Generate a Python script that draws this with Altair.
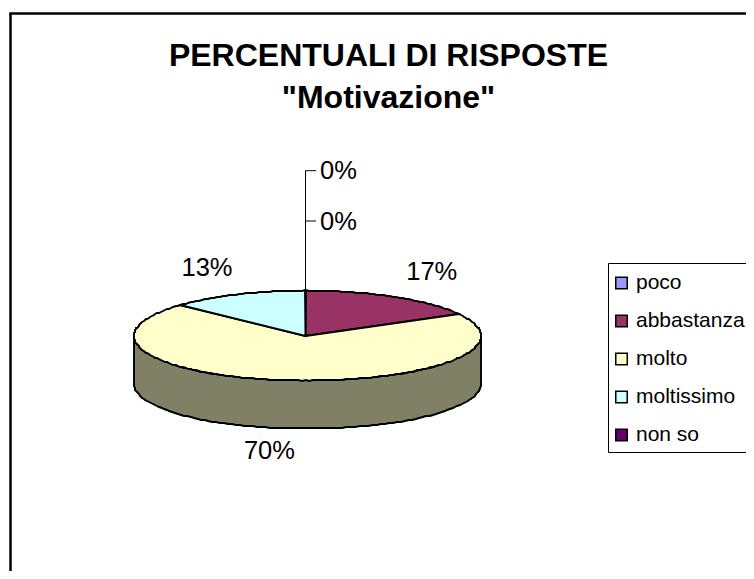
import math
import altair as alt
import pandas as pd

categories = ["poco", "abbastanza", "molto", "moltissimo", "non so"]
shares = [0, 17, 70, 13, 0]
colors = ["#9999FF", "#993366", "#FFFFCC", "#CCFFFF", "#660066"]
side_color = "#808066"
title_lines = ["PERCENTUALI DI RISPOSTE", '"Motivazione"']

W, H = 738, 563
CX, CY, RX, RY, DEPTH = 297.5, 327.5, 173.5, 45, 48
FONT = "Liberation Sans"


def rim(turn, dz=0.0):
    a = 2 * math.pi * turn
    s, c = math.sin(a), math.cos(a)
    return [round(CX + RX * s + 2 * abs(s)), round(CY - RY * c + 0.5 * abs(s) + dz)]


def feature(ring, **props):
    return {"type": "Feature", "properties": props,
            "geometry": {"type": "Polygon", "coordinates": [ring]}}


# slices of the top face, built from the shares
wedges, start = [], 0.0
for name, share in zip(categories, shares):
    if share > 0:
        steps = max(2, int(share * 3))
        arc = [rim((start + (share / 100) * i / steps)) for i in range(steps + 1)]
        ring = [[CX, CY + 0.5]] + arc + [[CX, CY + 0.5]]
        wedges.append(feature(ring, category=name))
    start += share / 100

# visible side wall: the front half of the rim
front = [rim(0.25 + 0.5 * i / 120) for i in range(121)]
back = [rim(0.75 - 0.5 * i / 120, DEPTH) for i in range(121)]
wall = [feature(front + back + [front[0]], part="side")]

projection = alt.Projection(type="identity", scale=1, translate=[0, 0])

wall_layer = alt.Chart(alt.Data(values=wall)).mark_geoshape(
    fill=side_color, stroke="black", strokeWidth=1.9
).project(**projection.to_dict())

wedge_layer = alt.Chart(alt.Data(values=wedges)).mark_geoshape(
    stroke="black", strokeWidth=1.9
).encode(
    color=alt.Color(
        "properties.category:N",
        scale=alt.Scale(domain=categories, range=colors),
        sort=categories,
        legend=alt.Legend(
            title=None, orient="none", legendX=603, legendY=264.5,
            symbolType="square", symbolSize=132, symbolStrokeColor="black",
            symbolStrokeWidth=1.5, symbolOpacity=1, labelFont=FONT, labelFontSize=21,
            labelColor="black", labelOffset=4, rowPadding=16, labelLimit=200,
            padding=0,
        ),
    )
).project(**projection.to_dict())

# percentage labels placed from each slice's mid angle; empty slices sit on leaders
rows, start = [], 0.0
zero_levels = {"poco": 162.7, "non so": 213}
for name, share in zip(categories, shares):
    mid = 2 * math.pi * (start + share / 200)
    if share == 0:
        rows.append({"label": "0%", "px": 330.5, "py": zero_levels[name] + 0.5})
    else:
        c = math.cos(mid)
        rows.append({
            "label": f"{share}%",
            "px": CX + 248 * math.sin(mid) - (5 if c < 0 else 0),
            "py": CY - 74 * c + (42 if c < 0 else 0) + 0.5,
        })
    start += share / 100
labels = pd.DataFrame(rows)

label_layer = alt.Chart(labels).mark_text(
    font=FONT, fontSize=25.5, color="black", baseline="middle", align="center"
).encode(
    x=alt.X("px:Q", scale=None, axis=None),
    y=alt.Y("py:Q", scale=None, axis=None),
    text="label:N",
)

leaders = pd.DataFrame([
    {"x": CX, "x2": CX, "y": 162.7, "y2": CY - RY},
    {"x": CX, "x2": 308, "y": 162.7, "y2": 162.7},
    {"x": CX, "x2": 308, "y": 213, "y2": 213},
])
leader_layer = alt.Chart(leaders).mark_rule(color="black", strokeWidth=1).encode(
    x=alt.X("x:Q", scale=None, axis=None), x2="x2:Q",
    y=alt.Y("y:Q", scale=None, axis=None), y2="y2:Q",
)

frame_top = alt.Chart(pd.DataFrame({"a": [0]})).mark_rule(color="black", strokeWidth=2.5).encode(
    x=alt.value(1.2), x2=alt.value(W), y=alt.value(5.5))
frame_left = alt.Chart(pd.DataFrame({"a": [0]})).mark_rule(color="black", strokeWidth=2.5).encode(
    x=alt.value(2.5), y=alt.value(5.5), y2=alt.value(H))
legend_box = alt.Chart(pd.DataFrame({"a": [0]})).mark_rect(
    fill="white", stroke="black", strokeWidth=1
).encode(x=alt.value(600.5), x2=alt.value(W + 10), y=alt.value(255.5), y2=alt.value(444.5))

chart = alt.layer(
    frame_top, frame_left, legend_box, wall_layer, wedge_layer, leader_layer, label_layer
).properties(
    width=W, height=H, padding=0,
    autosize=alt.AutoSizeParams(type="none"),
    title=alt.TitleParams(
        text=title_lines, font=FONT, fontSize=32, fontWeight="bold", color="black",
        anchor="middle", dx=11.5, dy=136, lineHeight=42, baseline="alphabetic",
    ),
).configure_view(stroke=None)

chart.save("out.html", embed_options={"renderer": "svg", "actions": False})
